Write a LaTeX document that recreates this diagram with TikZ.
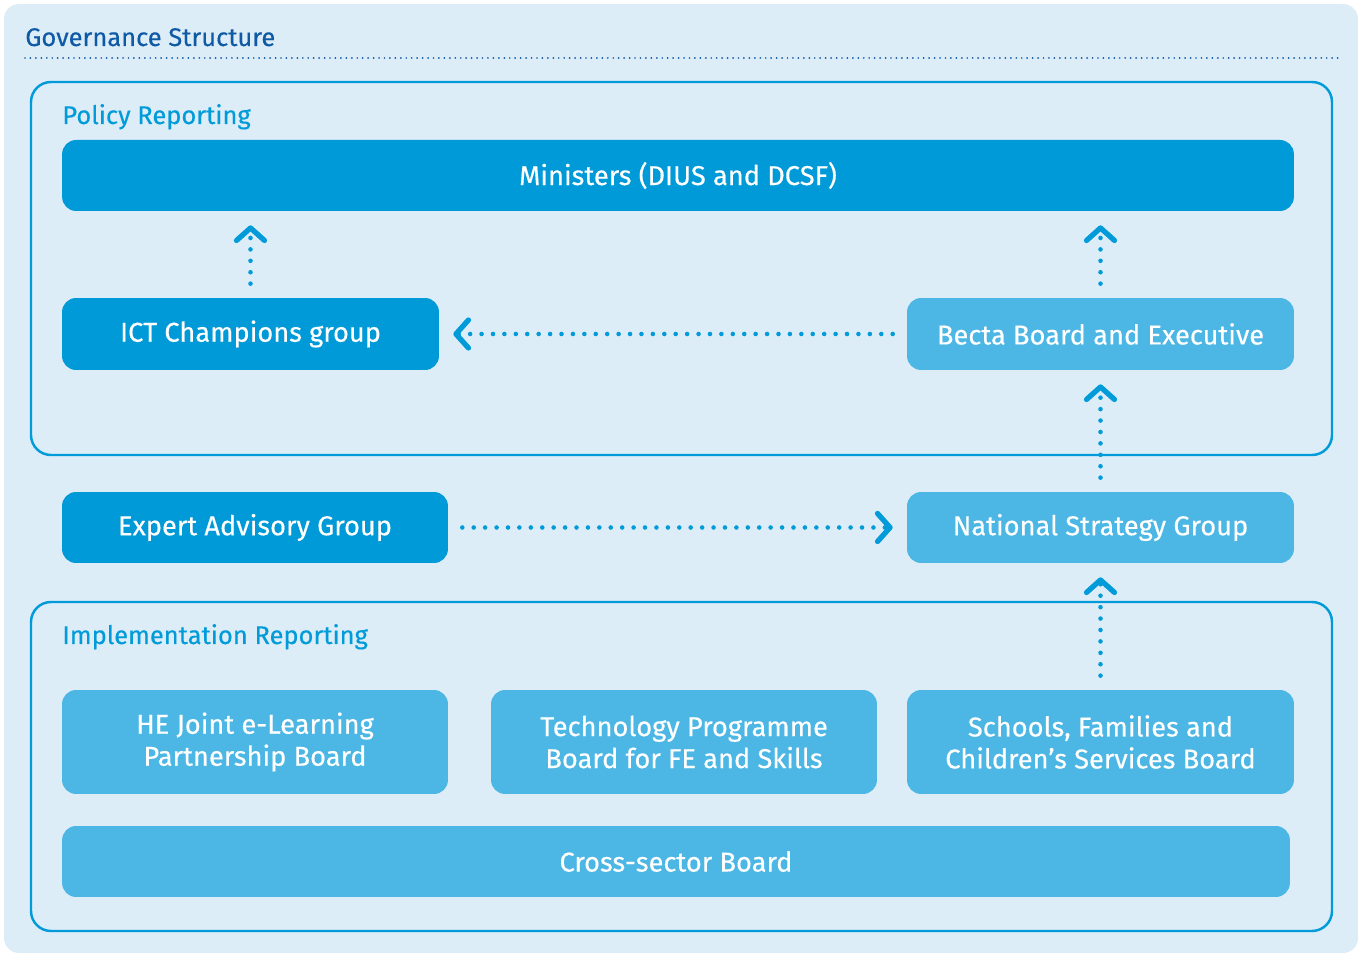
\documentclass[tikz,border=0pt]{standalone}
\usepackage{fontspec}
\setmainfont{Fira Sans}[FakeBold=0.35]
\usetikzlibrary{arrows.meta}
\definecolor{govbg}{RGB}{221,237,248}
\definecolor{govdark}{RGB}{0,154,216}
\definecolor{govlight}{RGB}{76,183,228}
\definecolor{govline}{RGB}{0,155,216}
\definecolor{govtitle}{RGB}{14,90,165}
\begin{document}
\begin{tikzpicture}[
 x=0.02cm, y=-0.02cm,
 govbox/.style={rounded corners=0.28cm, text=white, align=center, inner sep=0pt, font=\fontsize{15.5}{18.2}\selectfont},
 darkbox/.style={govbox, fill=govdark},
 lightbox/.style={govbox, fill=govlight},
 reportframe/.style={draw=govline, line width=1.4pt, rounded corners=0.4cm},
 heading/.style={anchor=base west, text=govline, inner sep=0pt, font=\fontsize{14.5}{18}\selectfont},
 flow/.style={govline, line width=2.6pt, line cap=round, dash pattern=on 0pt off 6.5pt,
  -{Straight Barb[length=0.25cm, width=0.56cm, line width=3pt, round]},
  shorten <=0.28cm, shorten >=0.28cm}
]
\useasboundingbox (0,0) rectangle (1363,955);
\fill[govbg, rounded corners=0.3cm] (4,4) rectangle (1358,953);
\node[heading, text=govtitle] (title) at (25,46) {Governance Structure};
\draw[govtitle, line width=1.1pt, line cap=round, dash pattern=on 0pt off 3.1pt] (25,58) -- (1340,58);
\draw[reportframe] (31,82) rectangle (1332,455);
\draw[reportframe] (31,602) rectangle (1332,931);
\node[heading] (policy) at (62,124) {Policy Reporting};
\node[heading] (impl) at (62,644) {Implementation Reporting};

\node[darkbox, minimum width=24.64cm, minimum height=1.42cm] (ministers) at (678,175.5) {Ministers (DIUS and DCSF)};
\node[darkbox, minimum width=7.54cm, minimum height=1.44cm] (ict) at (250.5,334) {ICT Champions group};
\node[lightbox, minimum width=7.74cm, minimum height=1.44cm] (becta) at (1100.5,334) {Becta Board and Executive};
\node[darkbox, minimum width=7.72cm, minimum height=1.42cm] (expert) at (255,527.5) {Expert Advisory Group};
\node[lightbox, minimum width=7.74cm, minimum height=1.42cm] (national) at (1100.5,527.5) {National Strategy Group};
\node[lightbox, minimum width=7.72cm, minimum height=2.08cm] (he) at (255,742) {HE Joint e-Learning\\Partnership Board};
\node[lightbox, minimum width=7.72cm, minimum height=2.08cm] (tech) at (684,742) {Technology Programme\\Board for FE and Skills};
\node[lightbox, minimum width=7.74cm, minimum height=2.08cm] (schools) at (1100.5,742) {Schools, Families and\\Children’s Services Board};
\node[lightbox, minimum width=24.56cm, minimum height=1.42cm] (cross) at (676,861.5) {Cross-sector Board};

\draw[flow] (ict.north) -- (ict.north |- ministers.south);
\draw[flow] (becta.north) -- (becta.north |- ministers.south);
\draw[flow] (becta.west) -- (ict.east);
\draw[flow] (national.north) -- (becta.south);
\draw[flow] (expert.east) -- (national.west);
\draw[flow] (schools.north) -- (national.south);
\end{tikzpicture}
\end{document}
